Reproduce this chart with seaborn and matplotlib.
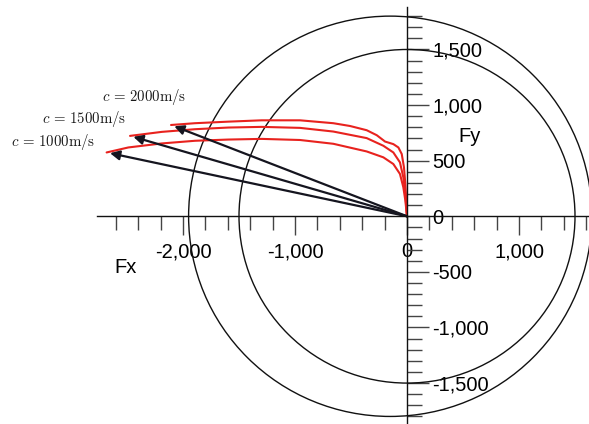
import numpy as np
import pandas as pd
import matplotlib
matplotlib.use('Agg')
import matplotlib.pyplot as plt
import seaborn as sns
from matplotlib.ticker import MultipleLocator, FuncFormatter
from matplotlib.patches import Circle

# ---------------- data ----------------
speed_labels = [r'$c\,=\,1000\mathrm{m/s}$', r'$c\,=\,1500\mathrm{m/s}$', r'$c\,=\,2000\mathrm{m/s}$']

fx_1000 = [-2682, -2488, -2190, -1893, -1596, -1298, -955, -658, -360, -211, -122, -63, -33, -15, 0]
fy_1000 = [574, 619, 655, 679, 690, 696, 686, 652, 583, 530, 470, 381, 262, 143, 0]

fx_1500 = [-2473, -2190, -1893, -1596, -1298, -955, -658, -360, -211, -122, -63, -33, -15, 0]
fy_1500 = [723, 759, 783, 798, 804, 795, 762, 703, 634, 574, 485, 351, 203, 0]

fx_2000 = [-2107, -1893, -1596, -1298, -955, -658, -509, -360, -270, -196, -122, -77, -47, -27, -15, -6, 0]
fy_2000 = [821, 837, 851, 863, 863, 837, 812, 774, 729, 672, 649, 619, 560, 440, 292, 113, 0]

circle_centers = [(0, 0), (-150, 0)]
circle_radii = [1500, 1800]

label_pos = [(-3536, 668), (-3259, 875), (-2723, 1073)]

# ---------------- style ----------------
sns.set_style('white')
plt.rcParams['font.family'] = ['Liberation Sans', 'DejaVu Sans']
plt.rcParams['mathtext.fontset'] = 'cm'
plt.rcParams['text.color'] = 'black'
plt.rcParams['xtick.labelcolor'] = 'black'
plt.rcParams['ytick.labelcolor'] = 'black'

fig = plt.figure(figsize=(5.89, 4.24), dpi=100)
ax = fig.add_axes([0, 0, 1, 1])
ax.set_facecolor('white')

ax.set_xlim(-3634, 1625)
ax.set_ylim(-1868, 1945)

# circles
for (cx, cy), r in zip(circle_centers, circle_radii):
    ax.add_patch(Circle((cx, cy), r, fill=False, lw=1.0, ec='#111111', zorder=2))

# curves
curves = [(fx_1000, fy_1000), (fx_1500, fy_1500), (fx_2000, fy_2000)]
for fx, fy in curves:
    df = pd.DataFrame({'Fx': fx, 'Fy': fy})
    sns.lineplot(data=df, x='Fx', y='Fy', sort=False, estimator=None,
                 color='#e8221e', lw=1.5, ax=ax, zorder=3)

# arrows from origin to curve starts
for fx, fy in curves:
    ax.annotate('', xy=(fx[0], fy[0]), xytext=(0, 0),
                arrowprops=dict(arrowstyle='-|>', color='#15151f', lw=1.6,
                                mutation_scale=14, shrinkA=0, shrinkB=2.5),
                zorder=4)

# speed labels
for (tx, ty), lab in zip(label_pos, speed_labels):
    ax.text(tx, ty, lab, fontsize=10.7, ha='left', va='center', color='#1a1a1a')

# axis labels
ax.text(-2509, -465, 'Fx', fontsize=14.5, ha='center', va='center', color='black')
ax.text(562, 713, 'Fy', fontsize=14.5, ha='center', va='center', color='black')

# spines as crossing axes
ax.spines['left'].set_visible(False)
ax.spines['top'].set_visible(False)
ax.spines['bottom'].set_position(('data', 0))
ax.spines['right'].set_position(('data', 0))
ax.spines['bottom'].set_bounds(-2768, 1625)
ax.spines['right'].set_bounds(-1900, 1882)
for s in ['bottom', 'right']:
    ax.spines[s].set_color('#111111')
    ax.spines[s].set_linewidth(1.0)
    ax.spines[s].set_zorder(5)

ax.yaxis.tick_right()
ax.xaxis.tick_bottom()

fmt = FuncFormatter(lambda v, p: f"{int(round(v)):,}")
ax.xaxis.set_major_formatter(fmt)
ax.yaxis.set_major_formatter(fmt)

ax.set_xticks([-2000, -1000, 0, 1000])
ax.set_yticks([-1500, -1000, -500, 0, 500, 1000, 1500])
ax.set_xticks([t for t in np.arange(-2600, 1601, 200) if t % 1000 != 0], minor=True)
ax.set_yticks([t for t in np.arange(-1800, 1801, 100) if t % 500 != 0], minor=True)

ax.tick_params(axis='x', which='major', direction='out', length=13.7, width=1.0,
               color='#444444', pad=5, labelsize=14.5, labelcolor='black')
ax.tick_params(axis='x', which='minor', direction='out', length=10, width=1.0,
               color='#444444')
ax.tick_params(axis='y', which='major', direction='out', length=16, width=1.0,
               color='#444444', pad=2, labelsize=14.5, labelcolor='black')
ax.tick_params(axis='y', which='minor', direction='out', length=11, width=1.0,
               color='#444444')

ax.set_xlabel('')
ax.set_ylabel('')

fig.savefig('out.png', dpi=100, facecolor='white')
